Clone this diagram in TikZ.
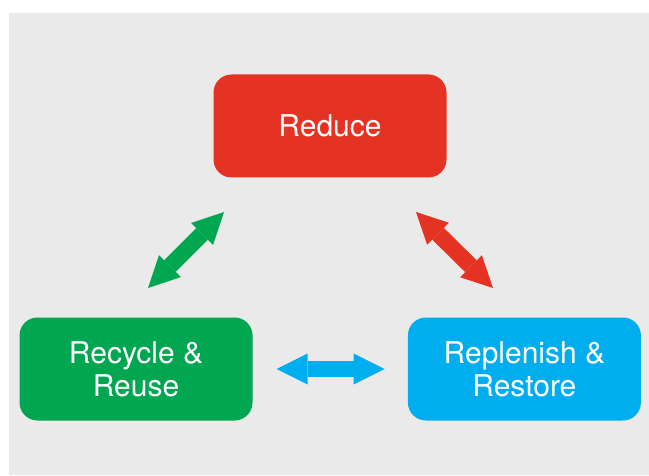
\documentclass[tikz,border=0pt]{standalone}
\usepackage{fontspec}
\setmainfont{TeX Gyre Heros}
\usetikzlibrary{arrows.meta,positioning}

\definecolor{bggray}{HTML}{EAEAEA}
\definecolor{rred}{HTML}{E53323}
\definecolor{rgreen}{HTML}{00A650}
\definecolor{rblue}{HTML}{00AEEF}

\tikzset{
  box/.style={rounded corners=18pt, minimum width=233pt, minimum height=103pt,
              text=white, align=center, font=\fontsize{30}{33}\selectfont},
  twoway/.style={line width=16.5pt,
                 {Triangle[width=31pt,length=31pt,line width=0pt]}-{Triangle[width=31pt,length=31pt,line width=0pt]}}
}

\begin{document}
\begin{tikzpicture}[x=1pt,y=1pt,node distance=155pt]
\useasboundingbox (0,0) rectangle (649,475);
\fill[bggray] (9,0) rectangle (649,462);

\node[box, fill=rred]   (reduce)    at (330,349)        {Reduce};
\node[box, fill=rgreen] (recycle)   at (136,106)        {Recycle \&\\Reuse};
\node[box, fill=rblue]  (replenish) [right=of recycle]  {Replenish \&\\Restore};

% arrow ends
\coordinate (gA) at (148,187);
\coordinate (gB) at (224,263);
\coordinate (rA) at (416,263);
\coordinate (rB) at (493,187);

\draw[twoway, rgreen] (gA) -- (gB);
\draw[twoway, rred]   (rA) -- (rB);
\draw[twoway, rblue, shorten <=24pt, shorten >=23pt] (recycle) -- (replenish);
\end{tikzpicture}
\end{document}
